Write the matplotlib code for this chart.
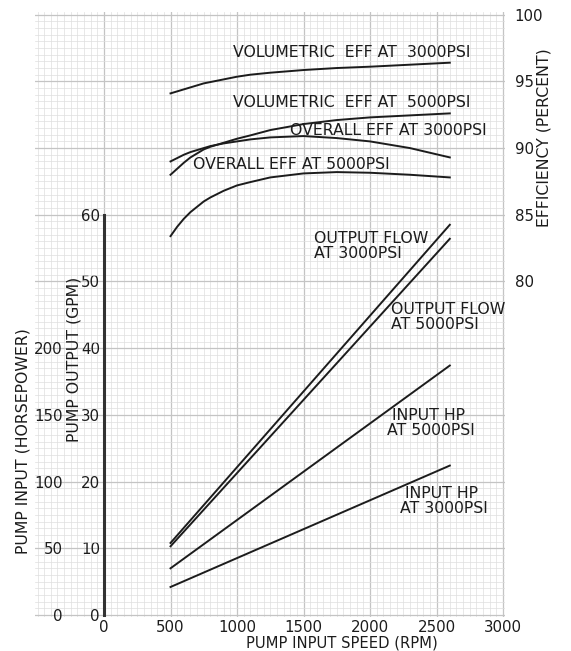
import matplotlib
matplotlib.use("Agg")
from matplotlib import pyplot as plt
from matplotlib.ticker import MultipleLocator

# speed (rpm) for the straight lines
speed_lin = [500, 2600]
flow_3000 = [10.8, 58.5]   # GPM
flow_5000 = [10.3, 56.4]   # GPM
hp_5000 = [35, 187]        # horsepower
hp_3000 = [21, 112]        # horsepower

# efficiency curves (percent)
speed_eff = [500, 550, 600, 650, 700, 750, 800, 900, 1000, 1100, 1250, 1500, 1750, 2000, 2300, 2600]
vol_eff_3000 = [94.1, 94.25, 94.4, 94.55, 94.7, 94.85, 94.95, 95.15, 95.35, 95.5, 95.65, 95.85, 96.0, 96.1, 96.25, 96.4]
vol_eff_5000 = [88.0, 88.45, 88.9, 89.3, 89.6, 89.9, 90.1, 90.4, 90.7, 90.95, 91.35, 91.8, 92.1, 92.3, 92.45, 92.6]
ovr_eff_3000 = [89.0, 89.25, 89.5, 89.7, 89.85, 90.0, 90.15, 90.35, 90.5, 90.65, 90.8, 90.9, 90.75, 90.5, 90.0, 89.3]
ovr_eff_5000 = [83.4, 84.1, 84.7, 85.2, 85.6, 86.0, 86.3, 86.8, 87.2, 87.45, 87.8, 88.1, 88.2, 88.15, 88.0, 87.8]

rpm_ticks = [0, 500, 1000, 1500, 2000, 2500, 3000]
gpm_ticks = [0, 10, 20, 30, 40, 50, 60]
hp_ticks = [0, 50, 100, 150, 200]
eff_ticks = [80, 85, 90, 95, 100]

ink = '#1c1c1c'
fs = 11.3
tfs = 10.8

fig = plt.figure(figsize=(5.71, 6.51), dpi=100)
ax = fig.add_axes([35/571, 34/651, 470/571, 605/651])

ylo, yhi = -0.3, 90.4
ax.set_xlim(-519, 3015)
ax.set_ylim(ylo, yhi)

# graph paper
ax.xaxis.set_minor_locator(MultipleLocator(50))
ax.yaxis.set_minor_locator(MultipleLocator(1))
ax.set_xticks(rpm_ticks)
ax.set_xticklabels([str(v) for v in rpm_ticks])
ax.set_yticks(list(range(0, 91, 10)))
ax.set_yticklabels([str(v) if v in gpm_ticks else '' for v in range(0, 91, 10)])
ax.grid(which='minor', color='#dedede', lw=0.5)
ax.grid(which='major', color='#c4c4c4', lw=0.9)
ax.set_axisbelow(True)
ax.tick_params(which='both', length=0)
ax.tick_params(axis='x', pad=1.8, labelsize=tfs, colors=ink)
ax.tick_params(axis='y', pad=3, labelsize=tfs, colors=ink)

for s in ['top', 'right', 'bottom']:
    ax.spines[s].set_visible(False)
ax.spines['left'].set_position(('data', 0))
ax.spines['left'].set_bounds(0, 60)
ax.spines['left'].set_linewidth(2.2)
ax.spines['left'].set_color('#333333')

# output flow lines
ax.plot(speed_lin, flow_3000, color=ink, lw=1.4)
ax.plot(speed_lin, flow_5000, color=ink, lw=1.4)

ax.set_xlabel('PUMP INPUT SPEED (RPM)', fontsize=10.6, color=ink)
ax.xaxis.set_label_coords(0.653, -0.030)
ax.set_ylabel('PUMP OUTPUT (GPM)', fontsize=fs, color=ink)
ax.yaxis.set_label_coords(0.098, 0.425)

# horsepower axis
ax_hp = ax.twinx()
ax_hp.set_ylim(ylo * 5, yhi * 5)
ax_hp.yaxis.set_ticks_position('left')
ax_hp.yaxis.set_label_position('left')
for s in ['top', 'right', 'bottom', 'left']:
    ax_hp.spines[s].set_visible(False)
ax_hp.spines['left'].set_position(('axes', 0.062))
ax_hp.set_yticks(hp_ticks)
ax_hp.set_yticklabels([str(v) for v in hp_ticks])
ax_hp.tick_params(length=0, pad=1, labelsize=tfs, colors=ink)
ax_hp.plot(speed_lin, hp_5000, color=ink, lw=1.4)
ax_hp.plot(speed_lin, hp_3000, color=ink, lw=1.4)
ax_hp.set_ylabel('PUMP INPUT (HORSEPOWER)', fontsize=fs, color=ink)
ax_hp.yaxis.set_label_coords(-0.009, 0.291)

# efficiency axis
ax_eff = ax.twinx()
ax_eff.set_ylim(80 + (ylo - 50) / 2, 80 + (yhi - 50) / 2)
for s in ['top', 'right', 'bottom', 'left']:
    ax_eff.spines[s].set_visible(False)
ax_eff.set_yticks(eff_ticks)
ax_eff.set_yticklabels([str(v) for v in eff_ticks])
ax_eff.tick_params(length=0, pad=7, labelsize=tfs, colors=ink)
for curve in [vol_eff_3000, vol_eff_5000, ovr_eff_3000, ovr_eff_5000]:
    ax_eff.plot(speed_eff, curve, color=ink, lw=1.4)
ax_eff.set_ylabel('EFFICIENCY (PERCENT)', fontsize=fs, color=ink)
ax_eff.yaxis.set_label_coords(1.068, 0.792)

# curve labels (GPM coordinates on main axis)
ax.text(970, 84.3, 'VOLUMETRIC  EFF AT  3000PSI', fontsize=fs, color=ink, va='center')
ax.text(970, 76.9, 'VOLUMETRIC  EFF AT  5000PSI', fontsize=fs, color=ink, va='center')
ax.text(1398, 72.7, 'OVERALL EFF AT 3000PSI', fontsize=fs, color=ink, va='center')
ax.text(669, 67.5, 'OVERALL EFF AT 5000PSI', fontsize=fs, color=ink, va='center')
ax.text(1579, 55.3, 'OUTPUT FLOW\nAT 3000PSI', fontsize=fs, color=ink, va='center', linespacing=1.0)
ax.text(2158, 44.7, 'OUTPUT FLOW\nAT 5000PSI', fontsize=fs, color=ink, va='center', linespacing=1.0)
ax.text(2128, 28.8, ' INPUT HP\nAT 5000PSI', fontsize=fs, color=ink, va='center', linespacing=1.0)
ax.text(2226, 17.1, ' INPUT HP\nAT 3000PSI', fontsize=fs, color=ink, va='center', linespacing=1.0)

fig.savefig('out.png', dpi=100, facecolor='white')
